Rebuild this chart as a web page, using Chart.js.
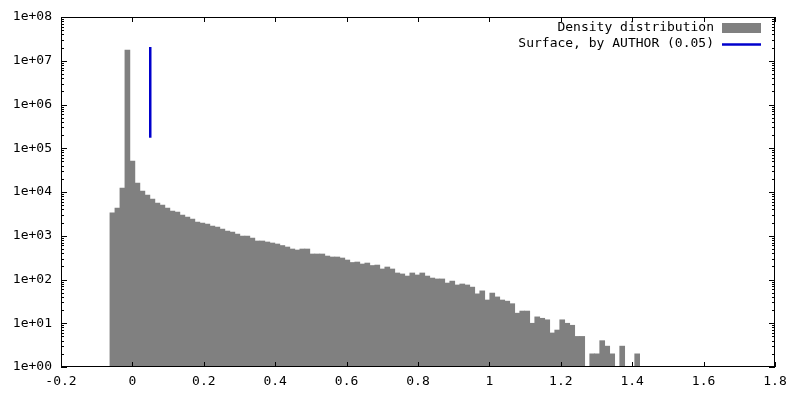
<!DOCTYPE html>
<html>
<head>
<meta charset="utf-8">
<script src="https://cdn.jsdelivr.net/npm/chart.js@4.4.0/dist/chart.umd.min.js"></script>
<style>
  html, body { margin: 0; padding: 0; background: #fff; }
  #wrap { width: 800px; height: 400px; }
</style>
</head>
<body>
<div id="wrap"><canvas id="chart" width="800" height="400"></canvas></div>
<script>
// histogram bins (centre of each 0.014 wide bin)
const binCenters = [
  -0.056, -0.042, -0.028, -0.014, 0.000, 0.014, 0.028, 0.042, 0.056, 0.070,
  0.084, 0.098, 0.112, 0.126, 0.140, 0.154, 0.168, 0.182, 0.196, 0.210,
  0.224, 0.238, 0.252, 0.266, 0.280, 0.294, 0.308, 0.322, 0.336, 0.350,
  0.364, 0.378, 0.392, 0.406, 0.420, 0.434, 0.448, 0.462, 0.476, 0.490,
  0.504, 0.518, 0.532, 0.546, 0.560, 0.574, 0.588, 0.602, 0.616, 0.630,
  0.644, 0.658, 0.672, 0.686, 0.700, 0.714, 0.728, 0.742, 0.756, 0.770,
  0.784, 0.798, 0.812, 0.826, 0.840, 0.854, 0.868, 0.882, 0.896, 0.910,
  0.924, 0.938, 0.952, 0.966, 0.980, 0.994, 1.008, 1.022, 1.036, 1.050,
  1.064, 1.078, 1.092, 1.106, 1.120, 1.134, 1.148, 1.162, 1.176, 1.190,
  1.204, 1.218, 1.232, 1.246, 1.260, 1.274, 1.288, 1.302, 1.316, 1.330,
  1.344, 1.358, 1.372, 1.386, 1.400, 1.414
];

// counts (null = empty bin)
const densityCounts = [
  3360, 4310, 12340, 17600000, 51150, 16060, 10540, 8540, 6920, 5610,
  5050, 4310, 3680, 3490, 2980, 2680, 2415, 2060, 1956, 1857,
  1671, 1585, 1427, 1285, 1219, 1097, 987, 987, 889, 759,
  759, 720, 683, 648, 598, 553, 498, 472, 498, 498,
  383, 383, 383, 344, 327, 327, 310, 279, 245, 251,
  226, 238, 209, 214, 174, 193, 174, 141, 134, 120,
  141, 127, 141, 120, 108, 103, 103, 83, 92, 75,
  79, 75, 67, 47, 55, 34, 49, 40, 34, 32,
  28, 17, 19, 19, 10, 14, 13, 12, 6, 7,
  12, 10, 9, 5, 5, null, 2, 2, 4, 3,
  2, null, 3, null, null, 2
];

const surfaceX = 0.05;
const surfaceRange = [174000, 20600000];

const seriesLabels = ['Density distribution', 'Surface, by AUTHOR (0.05)'];
const xTickValues = [-0.2, 0, 0.2, 0.4, 0.6, 0.8, 1, 1.2, 1.4, 1.6, 1.8];
const yTickValues = [1, 10, 100, 1e3, 1e4, 1e5, 1e6, 1e7, 1e8];

const barColor = '#808080';
const lineColor = '#0000cc';
const FONT_FAMILY = '"DejaVu Sans Mono", "Liberation Mono", monospace';
const FONT_SIZE = 13;

function fmtExp(v) {
  const e = Math.round(Math.log10(v));
  return '1e+' + String(e).padStart(2, '0');
}

// gnuplot style frame, inward ticks, and key in the top right corner
const gnuplotFrame = {
  id: 'gnuplotFrame',
  afterDraw(chart) {
    const ctx = chart.ctx;
    const ca = chart.chartArea;
    const xs = chart.scales.x;
    const ys = chart.scales.y;
    ctx.save();
    ctx.strokeStyle = '#000';
    ctx.lineWidth = 1;

    ctx.strokeRect(ca.left + 0.5, ca.top + 0.5, ca.right - ca.left - 1, ca.bottom - ca.top - 1);

    ctx.beginPath();
    xTickValues.forEach(v => {
      const px = Math.round(xs.getPixelForValue(v)) + 0.5;
      ctx.moveTo(px, ca.bottom);
      ctx.lineTo(px, ca.bottom - 5);
      ctx.moveTo(px, ca.top);
      ctx.lineTo(px, ca.top + 5);
    });
    yTickValues.forEach((v, i) => {
      const py = Math.round(ys.getPixelForValue(v)) + 0.5;
      ctx.moveTo(ca.left, py);
      ctx.lineTo(ca.left + 6, py);
      ctx.moveTo(ca.right, py);
      ctx.lineTo(ca.right - 6, py);
      if (i < yTickValues.length - 1) {
        for (let m = 2; m < 10; m++) {
          const pm = Math.round(ys.getPixelForValue(v * m)) + 0.5;
          ctx.moveTo(ca.left, pm);
          ctx.lineTo(ca.left + 3, pm);
          ctx.moveTo(ca.right, pm);
          ctx.lineTo(ca.right - 3, pm);
        }
      }
    });
    ctx.stroke();

    // key
    const sampleRight = ca.right - 14;
    const sampleLeft = sampleRight - 39;
    const textRight = sampleLeft - 8;
    ctx.font = FONT_SIZE + 'px ' + FONT_FAMILY;
    ctx.fillStyle = '#000';
    ctx.textAlign = 'right';
    ctx.textBaseline = 'middle';
    ctx.fillText(chart.data.datasets[1].label, textRight, ca.top + 11);
    ctx.fillText(chart.data.datasets[0].label, textRight, ca.top + 27);

    ctx.fillStyle = barColor;
    ctx.fillRect(sampleLeft, ca.top + 6, 39, 10);

    ctx.strokeStyle = lineColor;
    ctx.lineWidth = 2.5;
    ctx.beginPath();
    ctx.moveTo(sampleLeft, ca.top + 27.5);
    ctx.lineTo(sampleRight, ca.top + 27.5);
    ctx.stroke();
    ctx.restore();
  }
};

const ctx = document.getElementById('chart').getContext('2d');
new Chart(ctx, {
  type: 'bar',
  data: {
    datasets: [
      {
        type: 'line',
        label: seriesLabels[1],
        data: [
          { x: surfaceX, y: surfaceRange[0] },
          { x: surfaceX, y: surfaceRange[1] }
        ],
        borderColor: lineColor,
        borderWidth: 2.5,
        pointRadius: 0,
        fill: false,
        order: 0
      },
      {
        type: 'bar',
        label: seriesLabels[0],
        data: binCenters.map((x, i) => ({ x: x, y: densityCounts[i] })),
        backgroundColor: barColor,
        borderWidth: 0,
        barPercentage: 1.0,
        categoryPercentage: 1.0,
        order: 1
      }
    ]
  },
  options: {
    responsive: false,
    animation: false,
    devicePixelRatio: 1,
    layout: { padding: { top: 17, right: 25, left: 0, bottom: 0 } },
    plugins: {
      legend: { display: false },
      tooltip: { enabled: false }
    },
    scales: {
      x: {
        type: 'linear',
        min: -0.2,
        max: 1.8,
        offset: false,
        grid: { display: false, drawTicks: false, tickLength: 0 },
        border: { display: false },
        ticks: {
          color: '#000',
          font: { family: FONT_FAMILY, size: FONT_SIZE },
          padding: 7,
          maxRotation: 0,
          autoSkip: false,
          callback: v => String(parseFloat(Number(v).toFixed(1)))
        },
        afterBuildTicks: s => { s.ticks = xTickValues.map(v => ({ value: v })); },
        afterFit: s => { s.height = 33; }
      },
      y: {
        type: 'logarithmic',
        min: 1,
        max: 1e8,
        grid: { display: false, drawTicks: false, tickLength: 0 },
        border: { display: false },
        ticks: {
          color: '#000',
          font: { family: FONT_FAMILY, size: FONT_SIZE },
          padding: 9,
          autoSkip: false,
          callback: v => fmtExp(v)
        },
        afterBuildTicks: s => { s.ticks = yTickValues.map(v => ({ value: v })); },
        afterFit: s => { s.width = 61; }
      }
    }
  },
  plugins: [gnuplotFrame]
});
</script>
</body>
</html>
